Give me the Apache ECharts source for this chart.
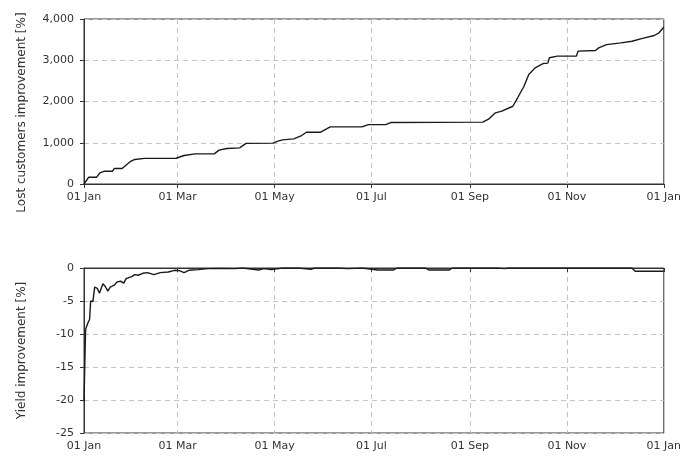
<!DOCTYPE html>
<html>
<head>
<meta charset="utf-8">
<script src="https://cdn.jsdelivr.net/npm/echarts@6/dist/echarts.min.js"></script>
<style>
html, body { margin: 0; padding: 0; background: #fff; }
#chart { width: 684px; height: 460px; }
</style>
</head>
<body>
<div id="chart"></div>
<script>
// day of year -> tick labels
var tickDays = [0, 59, 120, 181, 243, 304, 365];
var tickLabels = ['01 Jan', '01 Mar', '01 May', '01 Jul', '01 Sep', '01 Nov', '01 Jan'];

// Lost customers improvement [%]
var lostDays = [0, 3, 8, 10, 13, 18, 19, 24, 29, 32, 38, 58, 63, 70, 82, 85, 90, 98, 102, 119, 122, 125, 132, 137, 140, 149, 153, 155, 175, 179, 190, 193, 251, 255, 259, 263, 270, 273, 277, 280, 284, 289, 292, 293, 298, 310, 311, 322, 324, 329, 338, 345, 351, 359, 362, 365];
var lostValues = [0, 165, 165, 270, 310, 310, 375, 375, 540, 595, 620, 625, 690, 730, 730, 820, 860, 875, 985, 990, 1040, 1070, 1095, 1175, 1255, 1255, 1340, 1385, 1385, 1440, 1440, 1490, 1500, 1580, 1725, 1765, 1885, 2090, 2370, 2655, 2815, 2920, 2930, 3060, 3100, 3100, 3220, 3235, 3300, 3380, 3420, 3460, 3525, 3600, 3665, 3800];

// Yield improvement [%]
var yieldDays = [0, 1, 2.5, 3.5, 4.2, 5.6, 6.7, 8.4, 9.8, 11.9, 13.4, 15, 16.5, 19, 21, 23, 25, 26.5, 30, 32, 34, 37, 40, 44, 48, 53, 57, 60, 63, 66, 72, 78, 85, 95, 100, 110, 113, 118, 125, 135, 143, 145, 160, 166, 175, 185, 195, 197, 215, 217, 230, 232, 260, 265, 267, 300, 345, 347, 365];
var yieldValues = [-20.2, -9.3, -8.3, -7.8, -5.0, -5.1, -2.9, -3.1, -3.8, -2.4, -2.8, -3.5, -2.9, -2.6, -2.1, -2.0, -2.3, -1.6, -1.3, -1.0, -1.1, -0.8, -0.7, -1.0, -0.7, -0.6, -0.35, -0.4, -0.7, -0.35, -0.25, -0.1, -0.05, -0.1, 0, -0.3, -0.1, -0.25, 0, 0, -0.2, 0, 0, -0.1, 0, -0.3, -0.3, 0, 0, -0.3, -0.3, 0, 0, -0.1, 0, 0, 0, -0.5, -0.5];

var pairs = function(xs, ys) {
	var out = [];
	for (var i = 0; i < xs.length; i++) {
		out.push([xs[i], ys[i]]);
	}
	return out;
};

var font = 'DejaVu Sans';
var textColor = '#333';
var splitStyle = { color: '#c4c4c4', type: [5, 4], width: 1 };

var xAxisFor = function(idx) {
	return {
		type: 'value',
		gridIndex: idx,
		min: 0,
		max: 365,
		axisLine: { lineStyle: { color: '#333' } },
		axisTick: { show: true, length: 4, customValues: tickDays, lineStyle: { color: '#333' } },
		axisLabel: {
			customValues: tickDays,
			color: textColor,
			fontFamily: font,
			fontSize: 11,
			margin: 8,
			formatter: function(v) {
				var k = tickDays.indexOf(v);
				return k >= 0 ? tickLabels[k] : '';
			}
		},
		splitLine: { show: true, lineStyle: splitStyle }
	};
};

var chart = echarts.init(document.getElementById('chart'));
var option = {
	animation: false,
	grid: [
		{ left: 84, right: 18, top: 19, height: 165, show: true, borderColor: '#333', borderWidth: 1 },
		{ left: 84, right: 18, top: 268, height: 165, show: true, borderColor: '#333', borderWidth: 1 }
	],
	xAxis: [xAxisFor(0), xAxisFor(1)],
	yAxis: [
		{
			type: 'value',
			gridIndex: 0,
			min: 0,
			max: 4000,
			interval: 1000,
			name: 'Lost customers improvement [%]',
			nameLocation: 'middle',
			nameGap: 56,
			nameTextStyle: { color: textColor, fontFamily: font, fontSize: 12, padding: [0, 22, 0, 0] },
			axisLine: { show: true, lineStyle: { color: '#333' } },
			axisTick: { show: true, length: 4, lineStyle: { color: '#333' } },
			axisLabel: {
				color: textColor, fontFamily: font, fontSize: 11, margin: 10,
				formatter: function(v) { return v.toLocaleString('en-US'); }
			},
			splitLine: { show: true, lineStyle: splitStyle }
		},
		{
			type: 'value',
			gridIndex: 1,
			min: -25,
			max: 0,
			interval: 5,
			name: 'Yield improvement [%]',
			nameLocation: 'middle',
			nameGap: 56,
			nameTextStyle: { color: textColor, fontFamily: font, fontSize: 12 },
			axisLine: { show: true, lineStyle: { color: '#333' } },
			axisTick: { show: true, length: 4, lineStyle: { color: '#333' } },
			axisLabel: { color: textColor, fontFamily: font, fontSize: 11, margin: 10 },
			splitLine: { show: true, lineStyle: splitStyle }
		}
	],
	series: [
		{
			name: 'Lost customers',
			type: 'line',
			xAxisIndex: 0,
			yAxisIndex: 0,
			showSymbol: false,
			lineStyle: { color: '#1a1a1a', width: 1.4 },
			data: pairs(lostDays, lostValues)
		},
		{
			name: 'Yield',
			type: 'line',
			xAxisIndex: 1,
			yAxisIndex: 1,
			showSymbol: false,
			lineStyle: { color: '#1a1a1a', width: 1.4 },
			data: pairs(yieldDays, yieldValues)
		}
	]
};
chart.setOption(option);
</script>
</body>
</html>
